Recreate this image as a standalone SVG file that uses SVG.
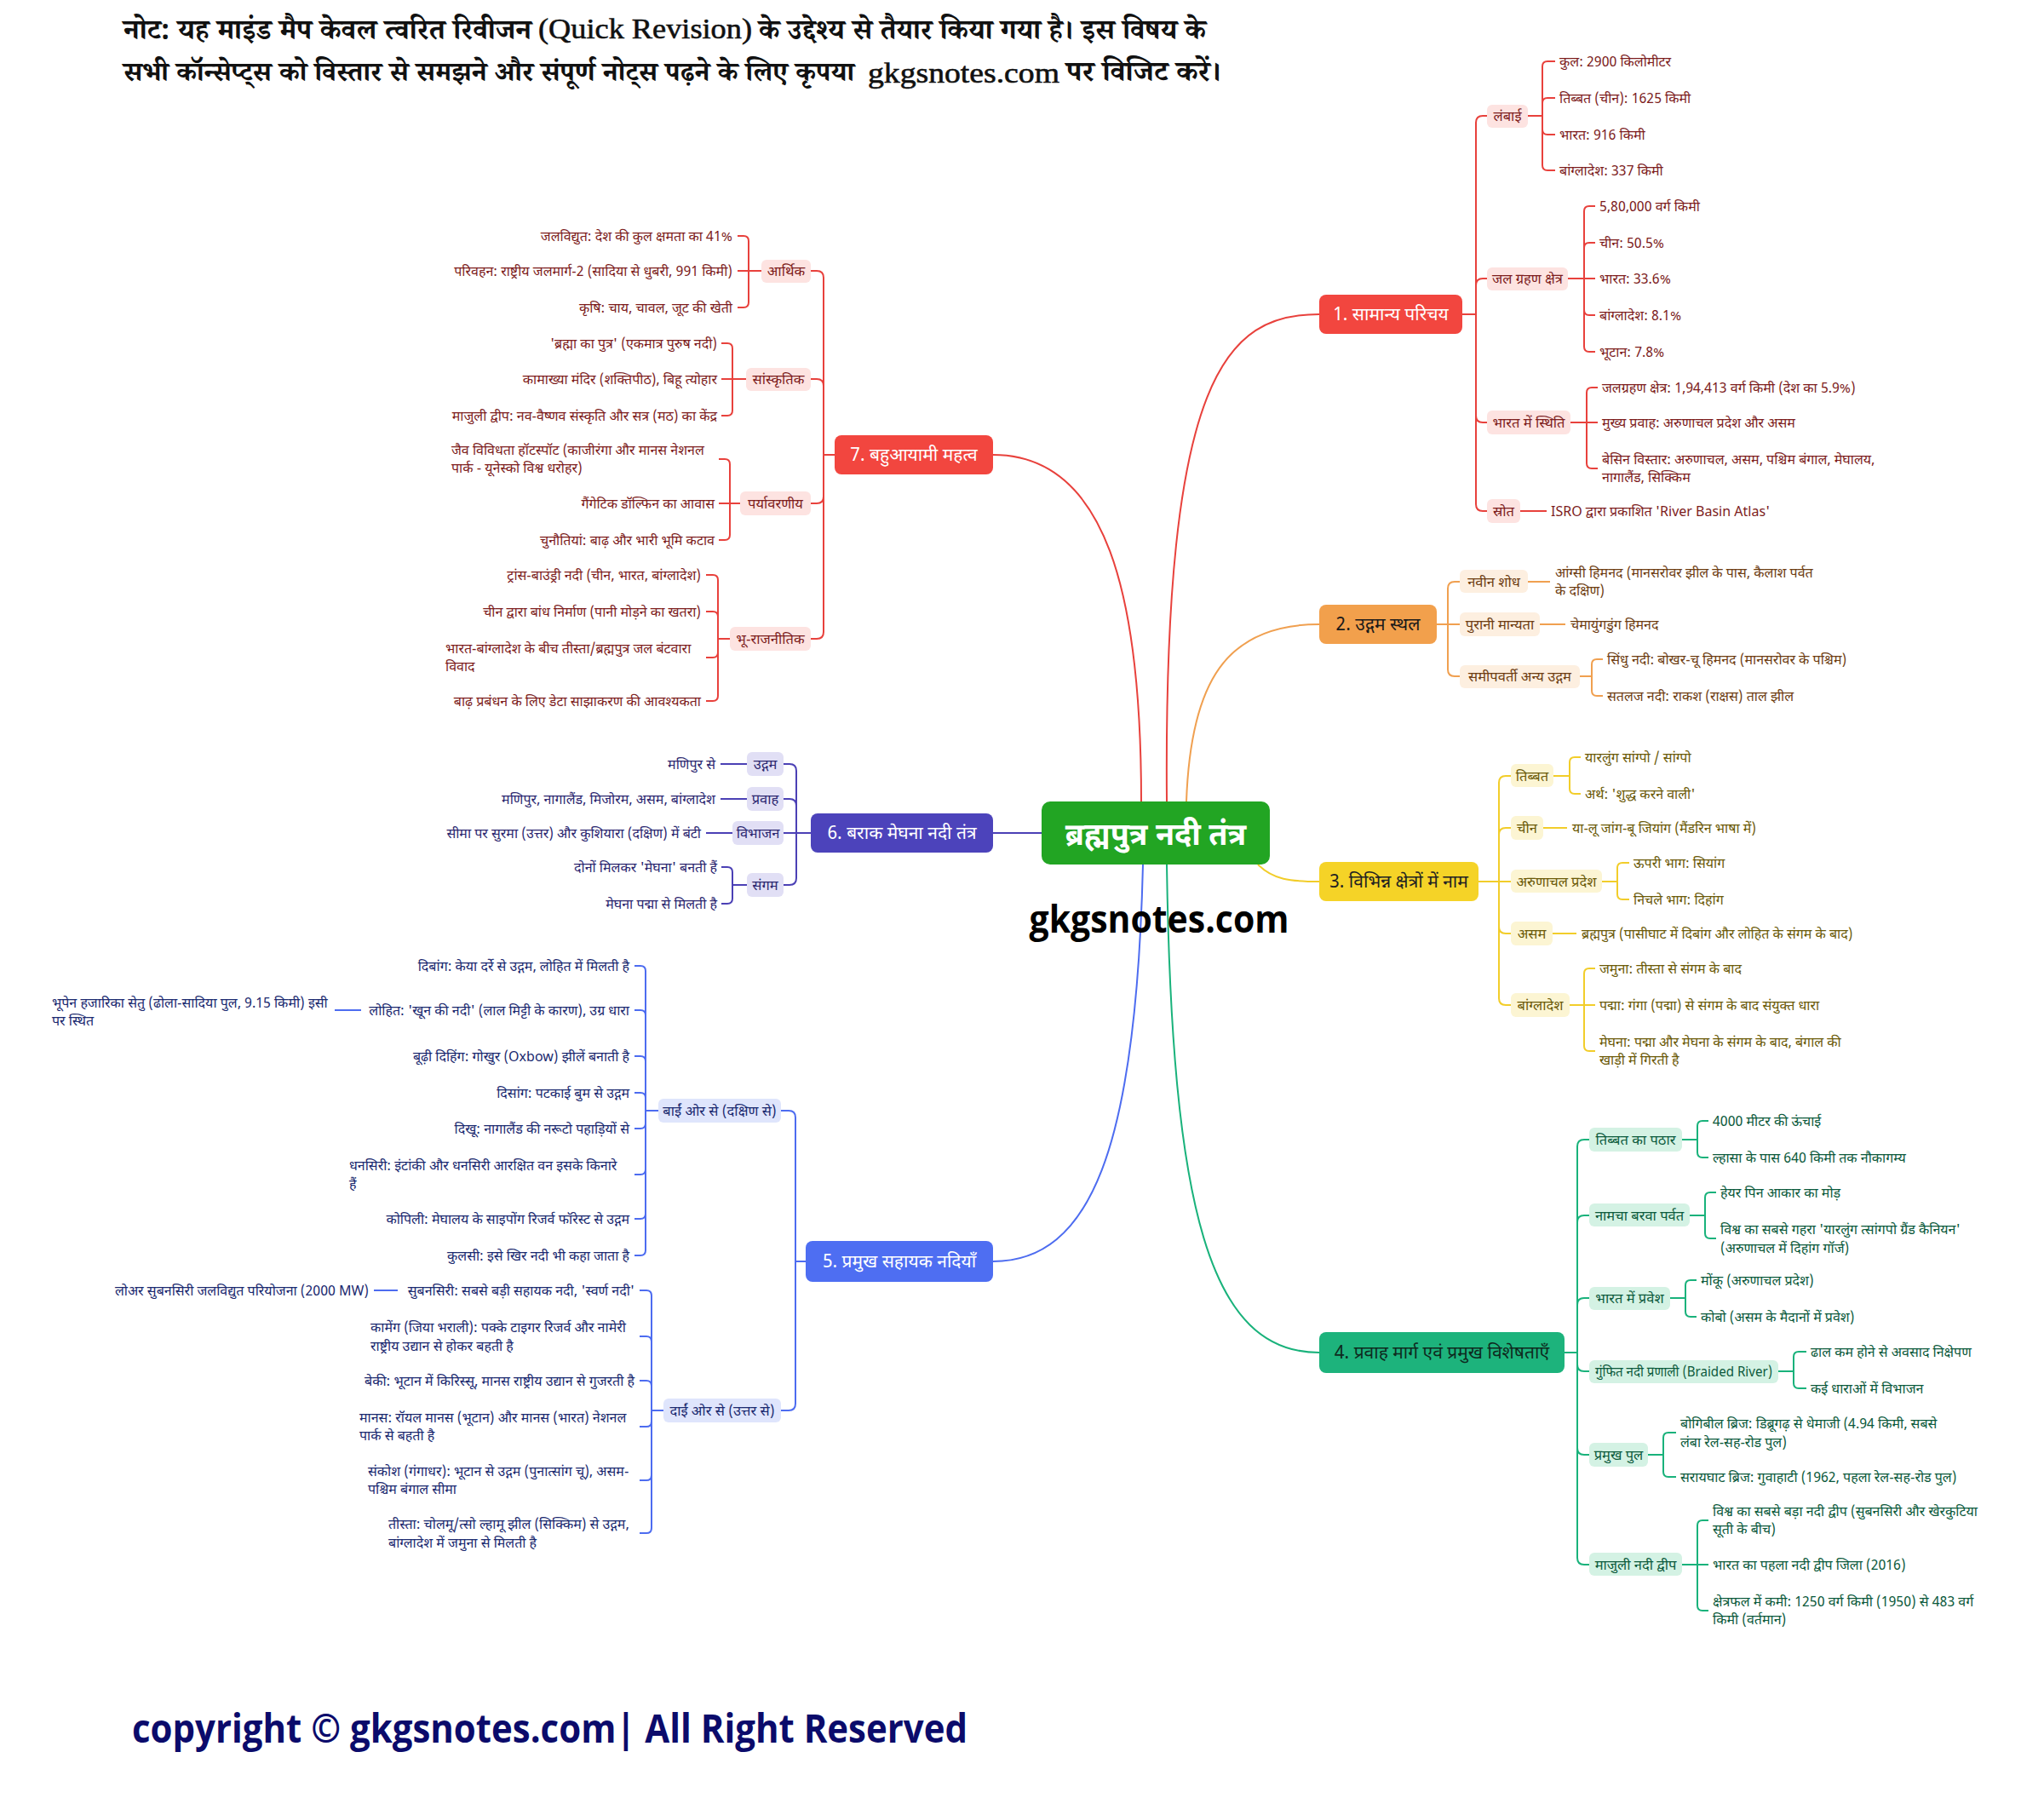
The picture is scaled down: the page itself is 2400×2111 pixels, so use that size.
<svg xmlns="http://www.w3.org/2000/svg" width="2400" height="2111" viewBox="0 0 2400 2111">
<style>
text{font-family:'Noto Sans Devanagari','Hind','Noto Sans','DejaVu Sans',sans-serif}
.lf{font-size:16px}
.sb{font-size:16.5px}
.mn{font-size:21px}
.e{text-anchor:end}
.m{text-anchor:middle}
.hd{font-family:'Noto Serif Devanagari','Noto Sans Devanagari','Liberation Serif',serif;font-weight:bold;font-size:34px;fill:#111}
.lat{font-family:'Liberation Serif',serif;font-size:34px;fill:#111;stroke:#111;stroke-width:0.6}
.c path{fill:none;stroke-width:2}
.cr{stroke:#e8413c}.co{stroke:#f0a050}.cy{stroke:#f2cd2a}.cg{stroke:#19b27b}.cb{stroke:#4d6cf0}.ci{stroke:#4b40b5}
.tr{fill:#7d1d1d}.to{fill:#6e3d12}.ty{fill:#6b5a08}.tg{fill:#0c5a3c}.tb{fill:#1b2a70}.ti{fill:#2c2770}
.sr{fill:#fde3e1}.so{fill:#fdefe0}.sy{fill:#fcf5d3}.sg{fill:#d4f2e4}.sbl{fill:#dfe5fc}.si{fill:#e1dff5}
</style>
<rect width="2400" height="2111" fill="#ffffff"/>

<g id="header">
<text class="hd" x="145" y="46" textLength="479" lengthAdjust="spacingAndGlyphs">नोट: यह माइंड मैप केवल त्वरित रिवीजन</text>
<text class="lat" x="632" y="45" textLength="251" lengthAdjust="spacingAndGlyphs">(Quick Revision)</text>
<text class="hd" x="891" y="46" textLength="525" lengthAdjust="spacingAndGlyphs">के उद्देश्य से तैयार किया गया है। इस विषय के</text>
<text class="hd" x="145" y="95" style="font-size:32.5px" textLength="858" lengthAdjust="spacingAndGlyphs">सभी कॉन्सेप्ट्स को विस्तार से समझने और संपूर्ण नोट्स पढ़ने के लिए कृपया</text>
<text class="lat" x="1019" y="97" style="font-size:33px" textLength="225" lengthAdjust="spacingAndGlyphs">gkgsnotes.com</text>
<text class="hd" x="1252" y="95" textLength="182" lengthAdjust="spacingAndGlyphs">पर विजिट करें।</text>
</g>

<g id="connectors" class="c">
<!-- center to main -->
<path class="cr" stroke-width="2.5" d="M1370 941 C1366 440 1440 369 1549 369"/>
<path class="cr" stroke-width="2.5" d="M1340 941 C1340 700 1300 534 1166 534"/>
<path class="co" stroke-width="2.5" d="M1393 941 C1398 800 1440 733 1549 733"/>
<path class="cy" stroke-width="2.5" d="M1477 1015 C1495 1033 1515 1035 1549 1035"/>
<path class="cg" stroke-width="2.5" d="M1370 1015 C1376 1420 1420 1588 1549 1588"/>
<path class="cb" stroke-width="2.5" d="M1342 1015 C1334 1350 1280 1481 1166 1481"/>
<path class="ci" stroke-width="2.5" d="M1223 978 H1166"/>

<!-- branch 1 -->
<path class="cr" d="M1717 369 H1733 V144 Q1733 136 1741 136 H1746"/>
<path class="cr" d="M1717 369 H1733 V335 Q1733 327 1741 327 H1746"/>
<path class="cr" d="M1717 369 H1733 V488 Q1733 496 1741 496 H1746"/>
<path class="cr" d="M1717 369 H1733 V592 Q1733 600 1741 600 H1746"/>
<path class="cr" d="M1794 136 H1811 V78 Q1811 72 1817 72 H1826"/>
<path class="cr" d="M1794 136 H1811 V121 Q1811 115 1817 115 H1826"/>
<path class="cr" d="M1794 136 H1811 V152 Q1811 158 1817 158 H1826"/>
<path class="cr" d="M1794 136 H1811 V194 Q1811 200 1817 200 H1826"/>
<path class="cr" d="M1841 327 H1860 V248 Q1860 242 1866 242 H1873"/>
<path class="cr" d="M1841 327 H1860 V291 Q1860 285 1866 285 H1873"/>
<path class="cr" d="M1841 327 H1873"/>
<path class="cr" d="M1841 327 H1860 V364 Q1860 370 1866 370 H1873"/>
<path class="cr" d="M1841 327 H1860 V407 Q1860 413 1866 413 H1873"/>
<path class="cr" d="M1844 496 H1863 V461 Q1863 455 1869 455 H1876"/>
<path class="cr" d="M1844 496 H1876"/>
<path class="cr" d="M1844 496 H1863 V544 Q1863 550 1869 550 H1876"/>
<path class="cr" d="M1785 600 H1816"/>

<!-- branch 2 -->
<path class="co" d="M1687 733 H1700 V691 Q1700 683 1708 683 H1714"/>
<path class="co" d="M1687 733 H1714"/>
<path class="co" d="M1687 733 H1700 V786 Q1700 794 1708 794 H1714"/>
<path class="co" d="M1794 683 H1820"/>
<path class="co" d="M1808 733 H1838"/>
<path class="co" d="M1855 794 H1869 V780 Q1869 774 1875 774 H1882"/>
<path class="co" d="M1855 794 H1869 V811 Q1869 817 1875 817 H1882"/>

<!-- branch 3 -->
<path class="cy" d="M1736 1035 H1760 V919 Q1760 911 1768 911 H1774"/>
<path class="cy" d="M1736 1035 H1760 V980 Q1760 972 1768 972 H1774"/>
<path class="cy" d="M1736 1035 H1774"/>
<path class="cy" d="M1736 1035 H1760 V1088 Q1760 1096 1768 1096 H1774"/>
<path class="cy" d="M1736 1035 H1760 V1172 Q1760 1180 1768 1180 H1774"/>
<path class="cy" d="M1824 911 H1843 V895 Q1843 889 1849 889 H1856"/>
<path class="cy" d="M1824 911 H1843 V926 Q1843 932 1849 932 H1856"/>
<path class="cy" d="M1812 972 H1840"/>
<path class="cy" d="M1881 1035 H1899 V1019 Q1899 1013 1905 1013 H1913"/>
<path class="cy" d="M1881 1035 H1899 V1050 Q1899 1056 1905 1056 H1913"/>
<path class="cy" d="M1823 1096 H1851"/>
<path class="cy" d="M1843 1180 H1860 V1143 Q1860 1137 1866 1137 H1873"/>
<path class="cy" d="M1843 1180 H1873"/>
<path class="cy" d="M1843 1180 H1860 V1228 Q1860 1234 1866 1234 H1873"/>

<!-- branch 4 -->
<path class="cg" d="M1837 1588 H1852 V1346 Q1852 1338 1860 1338 H1866"/>
<path class="cg" d="M1837 1588 H1852 V1435 Q1852 1427 1860 1427 H1866"/>
<path class="cg" d="M1837 1588 H1852 V1532 Q1852 1524 1860 1524 H1866"/>
<path class="cg" d="M1837 1588 H1852 V1602 Q1852 1610 1860 1610 H1866"/>
<path class="cg" d="M1837 1588 H1852 V1700 Q1852 1708 1860 1708 H1866"/>
<path class="cg" d="M1837 1588 H1852 V1829 Q1852 1837 1860 1837 H1866"/>
<path class="cg" d="M1975 1338 H1993 V1322 Q1993 1316 1999 1316 H2006"/>
<path class="cg" d="M1975 1338 H1993 V1353 Q1993 1359 1999 1359 H2006"/>
<path class="cg" d="M1984 1427 H2002 V1406 Q2002 1400 2008 1400 H2015"/>
<path class="cg" d="M1984 1427 H2002 V1448 Q2002 1454 2008 1454 H2015"/>
<path class="cg" d="M1961 1524 H1979 V1509 Q1979 1503 1985 1503 H1992"/>
<path class="cg" d="M1961 1524 H1979 V1540 Q1979 1546 1985 1546 H1992"/>
<path class="cg" d="M2088 1610 H2106 V1593 Q2106 1587 2112 1587 H2121"/>
<path class="cg" d="M2088 1610 H2106 V1624 Q2106 1630 2112 1630 H2121"/>
<path class="cg" d="M1935 1708 H1953 V1688 Q1953 1682 1959 1682 H1968"/>
<path class="cg" d="M1935 1708 H1953 V1728 Q1953 1734 1959 1734 H1968"/>
<path class="cg" d="M1975 1837 H1993 V1791 Q1993 1785 1999 1785 H2006"/>
<path class="cg" d="M1975 1837 H2006"/>
<path class="cg" d="M1975 1837 H1993 V1885 Q1993 1891 1999 1891 H2006"/>

<!-- branch 7 -->
<path class="cr" d="M980 534 H967 V326 Q967 318 959 318 H952"/>
<path class="cr" d="M980 534 H967 V453 Q967 445 959 445 H952"/>
<path class="cr" d="M980 534 H967 V583 Q967 591 959 591 H952"/>
<path class="cr" d="M980 534 H967 V742 Q967 750 959 750 H952"/>
<path class="cr" d="M894 318 H879 V283 Q879 277 873 277 H866"/>
<path class="cr" d="M894 318 H866"/>
<path class="cr" d="M894 318 H879 V355 Q879 361 873 361 H866"/>
<path class="cr" d="M876 445 H860 V409 Q860 403 854 403 H847"/>
<path class="cr" d="M876 445 H847"/>
<path class="cr" d="M876 445 H860 V482 Q860 488 854 488 H847"/>
<path class="cr" d="M869 591 H857 V545 Q857 539 851 539 H844"/>
<path class="cr" d="M869 591 H844"/>
<path class="cr" d="M869 591 H857 V628 Q857 634 851 634 H844"/>
<path class="cr" d="M857 750 H843 V681 Q843 675 837 675 H829"/>
<path class="cr" d="M857 750 H843 V724 Q843 718 837 718 H829"/>
<path class="cr" d="M857 750 H843 V766 Q843 772 837 772 H829"/>
<path class="cr" d="M857 750 H843 V817 Q843 823 837 823 H829"/>

<!-- branch 6 -->
<path class="ci" d="M952 978 H935 V905 Q935 897 927 897 H920"/>
<path class="ci" d="M952 978 H935 V946 Q935 938 927 938 H920"/>
<path class="ci" d="M952 978 H920"/>
<path class="ci" d="M952 978 H935 V1031 Q935 1039 927 1039 H920"/>
<path class="ci" d="M877 897 H846"/>
<path class="ci" d="M877 938 H846"/>
<path class="ci" d="M860 978 H829"/>
<path class="ci" d="M877 1039 H860 V1024 Q860 1018 854 1018 H847"/>
<path class="ci" d="M877 1039 H860 V1055 Q860 1061 854 1061 H847"/>

<!-- branch 5 -->
<path class="cb" d="M946 1481 H934 V1312 Q934 1304 926 1304 H917"/>
<path class="cb" d="M946 1481 H934 V1648 Q934 1656 926 1656 H917"/>
<path class="cb" d="M773 1304 H758 V1140 Q758 1134 752 1134 H745"/>
<path class="cb" d="M773 1304 H758 V1192 Q758 1186 752 1186 H745"/>
<path class="cb" d="M773 1304 H758 V1246 Q758 1240 752 1240 H745"/>
<path class="cb" d="M773 1304 H758 V1289 Q758 1283 752 1283 H745"/>
<path class="cb" d="M773 1304 H758 V1319 Q758 1325 752 1325 H745"/>
<path class="cb" d="M773 1304 H758 V1373 Q758 1379 752 1379 H745"/>
<path class="cb" d="M773 1304 H758 V1425 Q758 1431 752 1431 H745"/>
<path class="cb" d="M773 1304 H758 V1468 Q758 1474 752 1474 H745"/>
<path class="cb" d="M424 1186 H393"/>
<path class="cb" d="M779 1656 H765 V1521 Q765 1515 759 1515 H751"/>
<path class="cb" d="M779 1656 H765 V1575 Q765 1569 759 1569 H751"/>
<path class="cb" d="M779 1656 H765 V1627 Q765 1621 759 1621 H751"/>
<path class="cb" d="M779 1656 H765 V1669 Q765 1675 759 1675 H751"/>
<path class="cb" d="M779 1656 H765 V1732 Q765 1738 759 1738 H751"/>
<path class="cb" d="M779 1656 H765 V1794 Q765 1800 759 1800 H751"/>
<path class="cb" d="M467 1515 H439"/>
</g>

<g id="center">
<rect x="1223" y="941" width="268" height="74" rx="10" fill="#22a523"/>
<text x="1357" y="992" class="m" font-size="36" font-weight="bold" fill="#fff">ब्रह्मपुत्र नदी तंत्र</text>
</g>
<g id="watermark">
<text x="1361" y="1095" class="m" font-size="44" font-weight="bold" fill="#000" textLength="305" lengthAdjust="spacingAndGlyphs" style="font-family:'Open Sans','Noto Sans',sans-serif">gkgsnotes.com</text>
</g>

<!-- Branch 1 -->
<g id="n1">
<rect x="1549" y="346" width="168" height="46" rx="8" fill="#f2463f"/>
<text x="1633" y="376" class="m mn" fill="#fff">1. सामान्य परिचय</text>
</g>
<g id="n1-subs">
<rect class="sr" x="1746" y="123" width="48" height="27" rx="6"/><text class="sb m tr" x="1770" y="142">लंबाई</text>
<rect class="sr" x="1746" y="314" width="95" height="27" rx="6"/><text class="sb m tr" x="1793.5" y="333">जल ग्रहण क्षेत्र</text>
<rect class="sr" x="1746" y="482" width="98" height="28" rx="6"/><text class="sb m tr" x="1795" y="502">भारत में स्थिति</text>
<rect class="sr" x="1746" y="586" width="39" height="28" rx="6"/><text class="sb m tr" x="1765.5" y="606">स्रोत</text>
</g>
<g id="n1-leaves" class="lf tr">
<text x="1831" y="78">कुल: 2900 किलोमीटर</text>
<text x="1831" y="121">तिब्बत (चीन): 1625 किमी</text>
<text x="1831" y="164">भारत: 916 किमी</text>
<text x="1831" y="206">बांग्लादेश: 337 किमी</text>
<text x="1878" y="248">5,80,000 वर्ग किमी</text>
<text x="1878" y="291">चीन: 50.5%</text>
<text x="1878" y="333">भारत: 33.6%</text>
<text x="1878" y="376">बांग्लादेश: 8.1%</text>
<text x="1878" y="419">भूटान: 7.8%</text>
<text x="1881" y="461">जलग्रहण क्षेत्र: 1,94,413 वर्ग किमी (देश का 5.9%)</text>
<text x="1881" y="502">मुख्य प्रवाह: अरुणाचल प्रदेश और असम</text>
<text x="1881" y="545">बेसिन विस्तार: अरुणाचल, असम, पश्चिम बंगाल, मेघालय,<tspan x="1881" y="566">नागालैंड, सिक्किम</tspan></text>
<text x="1821" y="606">ISRO द्वारा प्रकाशित 'River Basin Atlas'</text>
</g>

<!-- Branch 2 -->
<g id="n2">
<rect x="1549" y="710" width="138" height="46" rx="8" fill="#f2a04c"/>
<text x="1618" y="740" class="m mn" fill="#1a1a1a">2. उद्गम स्थल</text>
</g>
<g id="n2-subs">
<rect class="so" x="1714" y="669" width="80" height="27" rx="6"/><text class="sb m to" x="1754" y="689">नवीन शोध</text>
<rect class="so" x="1714" y="719" width="94" height="28" rx="6"/><text class="sb m to" x="1761" y="739">पुरानी मान्यता</text>
<rect class="so" x="1714" y="781" width="141" height="27" rx="6"/><text class="sb m to" x="1784.5" y="800">समीपवर्ती अन्य उद्गम</text>
</g>
<g id="n2-leaves" class="lf to">
<text x="1826" y="678">आंग्सी हिमनद (मानसरोवर झील के पास, कैलाश पर्वत<tspan x="1826" y="699">के दक्षिण)</tspan></text>
<text x="1844" y="739">चेमायुंगडुंग हिमनद</text>
<text x="1887" y="780">सिंधु नदी: बोखर-चू हिमनद (मानसरोवर के पश्चिम)</text>
<text x="1887" y="823">सतलज नदी: राकश (राक्षस) ताल झील</text>
</g>

<!-- Branch 3 -->
<g id="n3">
<rect x="1549" y="1012" width="187" height="46" rx="8" fill="#f5d327"/>
<text x="1642.5" y="1042" class="m mn" fill="#222">3. विभिन्न क्षेत्रों में नाम</text>
</g>
<g id="n3-subs">
<rect class="sy" x="1774" y="897" width="50" height="27" rx="6"/><text class="sb m ty" x="1799" y="917">तिब्बत</text>
<rect class="sy" x="1774" y="958" width="38" height="28" rx="6"/><text class="sb m ty" x="1793" y="978">चीन</text>
<rect class="sy" x="1774" y="1021" width="107" height="27" rx="6"/><text class="sb m ty" x="1827.5" y="1041">अरुणाचल प्रदेश</text>
<rect class="sy" x="1774" y="1082" width="49" height="28" rx="6"/><text class="sb m ty" x="1798.5" y="1102">असम</text>
<rect class="sy" x="1774" y="1166" width="69" height="28" rx="6"/><text class="sb m ty" x="1808.5" y="1186">बांग्लादेश</text>
</g>
<g id="n3-leaves" class="lf ty">
<text x="1861" y="895">यारलुंग सांग्पो / सांग्पो</text>
<text x="1861" y="938">अर्थ: 'शुद्ध करने वाली'</text>
<text x="1846" y="978">या-लू जांग-बू जियांग (मैंडरिन भाषा में)</text>
<text x="1918" y="1019">ऊपरी भाग: सियांग</text>
<text x="1918" y="1062">निचले भाग: दिहांग</text>
<text x="1857" y="1102">ब्रह्मपुत्र (पासीघाट में दिबांग और लोहित के संगम के बाद)</text>
<text x="1878" y="1143">जमुना: तीस्ता से संगम के बाद</text>
<text x="1878" y="1186">पद्मा: गंगा (पद्मा) से संगम के बाद संयुक्त धारा</text>
<text x="1878" y="1229">मेघना: पद्मा और मेघना के संगम के बाद, बंगाल की<tspan x="1878" y="1250">खाड़ी में गिरती है</tspan></text>
</g>

<!-- Branch 4 -->
<g id="n4">
<rect x="1549" y="1564" width="288" height="48" rx="8" fill="#1db37c"/>
<text x="1693" y="1595" class="m mn" fill="#0e2a1e">4. प्रवाह मार्ग एवं प्रमुख विशेषताएँ</text>
</g>
<g id="n4-subs">
<rect class="sg" x="1866" y="1324" width="109" height="28" rx="6"/><text class="sb m tg" x="1920.5" y="1344">तिब्बत का पठार</text>
<rect class="sg" x="1866" y="1413" width="118" height="27" rx="6"/><text class="sb m tg" x="1925" y="1433">नामचा बरवा पर्वत</text>
<rect class="sg" x="1866" y="1511" width="95" height="27" rx="6"/><text class="sb m tg" x="1913.5" y="1530">भारत में प्रवेश</text>
<rect class="sg" x="1866" y="1597" width="222" height="27" rx="6"/><text class="sb m tg" x="1977" y="1616" textLength="208" lengthAdjust="spacingAndGlyphs">गुंफित नदी प्रणाली (Braided River)</text>
<rect class="sg" x="1866" y="1694" width="69" height="28" rx="6"/><text class="sb m tg" x="1900.5" y="1714">प्रमुख पुल</text>
<rect class="sg" x="1866" y="1823" width="109" height="27" rx="6"/><text class="sb m tg" x="1920.5" y="1843">माजुली नदी द्वीप</text>
</g>
<g id="n4-leaves" class="lf tg">
<text x="2011" y="1322">4000 मीटर की ऊंचाई</text>
<text x="2011" y="1365">ल्हासा के पास 640 किमी तक नौकागम्य</text>
<text x="2020" y="1406">हेयर पिन आकार का मोड़</text>
<text x="2020" y="1449">विश्व का सबसे गहरा 'यारलुंग त्सांगपो ग्रैंड कैनियन'<tspan x="2020" y="1471">(अरुणाचल में दिहांग गॉर्ज)</tspan></text>
<text x="1997" y="1509">मोंकू (अरुणाचल प्रदेश)</text>
<text x="1997" y="1552">कोबो (असम के मैदानों में प्रवेश)</text>
<text x="2126" y="1593">ढाल कम होने से अवसाद निक्षेपण</text>
<text x="2126" y="1636">कई धाराओं में विभाजन</text>
<text x="1973" y="1677">बोगिबील ब्रिज: डिब्रूगढ़ से धेमाजी (4.94 किमी, सबसे<tspan x="1973" y="1699">लंबा रेल-सह-रोड पुल)</tspan></text>
<text x="1973" y="1740">सरायघाट ब्रिज: गुवाहाटी (1962, पहला रेल-सह-रोड पुल)</text>
<text x="2011" y="1780">विश्व का सबसे बड़ा नदी द्वीप (सुबनसिरी और खेरकुटिया<tspan x="2011" y="1801">सूती के बीच)</tspan></text>
<text x="2011" y="1843">भारत का पहला नदी द्वीप जिला (2016)</text>
<text x="2011" y="1886">क्षेत्रफल में कमी: 1250 वर्ग किमी (1950) से 483 वर्ग<tspan x="2011" y="1907">किमी (वर्तमान)</tspan></text>
</g>

<!-- Branch 7 -->
<g id="n7">
<rect x="980" y="511" width="186" height="46" rx="8" fill="#f2463f"/>
<text x="1073" y="541" class="m mn" fill="#fff">7. बहुआयामी महत्व</text>
</g>
<g id="n7-subs">
<rect class="sr" x="894" y="305" width="58" height="27" rx="6"/><text class="sb m tr" x="923" y="324">आर्थिक</text>
<rect class="sr" x="876" y="432" width="76" height="27" rx="6"/><text class="sb m tr" x="914" y="451">सांस्कृतिक</text>
<rect class="sr" x="869" y="577" width="83" height="28" rx="6"/><text class="sb m tr" x="910.5" y="597">पर्यावरणीय</text>
<rect class="sr" x="857" y="736" width="95" height="28" rx="6"/><text class="sb m tr" x="904.5" y="756">भू-राजनीतिक</text>
</g>
<g id="n7-leaves" class="lf tr">
<text class="e" x="860" y="283">जलविद्युत: देश की कुल क्षमता का 41%</text>
<text class="e" x="860" y="324">परिवहन: राष्ट्रीय जलमार्ग-2 (सादिया से धुबरी, 991 किमी)</text>
<text class="e" x="860" y="367">कृषि: चाय, चावल, जूट की खेती</text>
<text class="e" x="842" y="409">'ब्रह्मा का पुत्र' (एकमात्र पुरुष नदी)</text>
<text class="e" x="842" y="451">कामाख्या मंदिर (शक्तिपीठ), बिहू त्योहार</text>
<text class="e" x="842" y="494">माजुली द्वीप: नव-वैष्णव संस्कृति और सत्र (मठ) का केंद्र</text>
<text x="530" y="534">जैव विविधता हॉटस्पॉट (काजीरंगा और मानस नेशनल<tspan x="530" y="555">पार्क - यूनेस्को विश्व धरोहर)</tspan></text>
<text class="e" x="839" y="597">गैंगेटिक डॉल्फिन का आवास</text>
<text class="e" x="839" y="640">चुनौतियां: बाढ़ और भारी भूमि कटाव</text>
<text class="e" x="823" y="681">ट्रांस-बाउंड्री नदी (चीन, भारत, बांग्लादेश)</text>
<text class="e" x="823" y="724">चीन द्वारा बांध निर्माण (पानी मोड़ने का खतरा)</text>
<text x="523" y="767">भारत-बांग्लादेश के बीच तीस्ता/ब्रह्मपुत्र जल बंटवारा<tspan x="523" y="788">विवाद</tspan></text>
<text class="e" x="823" y="829">बाढ़ प्रबंधन के लिए डेटा साझाकरण की आवश्यकता</text>
</g>

<!-- Branch 6 -->
<g id="n6">
<rect x="952" y="955" width="214" height="46" rx="8" fill="#4c43bb"/>
<text x="1059" y="985" class="m mn" fill="#fff">6. बराक मेघना नदी तंत्र</text>
</g>
<g id="n6-subs">
<rect class="si" x="877" y="883" width="43" height="28" rx="6"/><text class="sb m ti" x="898.5" y="903">उद्गम</text>
<rect class="si" x="877" y="924" width="43" height="28" rx="6"/><text class="sb m ti" x="898.5" y="944">प्रवाह</text>
<rect class="si" x="860" y="964" width="60" height="28" rx="6"/><text class="sb m ti" x="890" y="984">विभाजन</text>
<rect class="si" x="877" y="1025" width="43" height="28" rx="6"/><text class="sb m ti" x="898.5" y="1045">संगम</text>
</g>
<g id="n6-leaves" class="lf ti">
<text class="e" x="840" y="903">मणिपुर से</text>
<text class="e" x="840" y="944">मणिपुर, नागालैंड, मिजोरम, असम, बांग्लादेश</text>
<text class="e" x="823" y="984">सीमा पर सुरमा (उत्तर) और कुशियारा (दक्षिण) में बंटी</text>
<text class="e" x="842" y="1024">दोनों मिलकर 'मेघना' बनती हैं</text>
<text class="e" x="842" y="1067">मेघना पद्मा से मिलती है</text>
</g>

<!-- Branch 5 -->
<g id="n5">
<rect x="946" y="1457" width="220" height="48" rx="8" fill="#4e6ef2"/>
<text x="1056" y="1488" class="m mn" fill="#fff">5. प्रमुख सहायक नदियाँ</text>
</g>
<g id="n5-subs">
<rect class="sbl" x="773" y="1290" width="144" height="28" rx="6"/><text class="sb m tb" x="845" y="1310">बाईं ओर से (दक्षिण से)</text>
<rect class="sbl" x="779" y="1642" width="138" height="28" rx="6"/><text class="sb m tb" x="848" y="1662">दाईं ओर से (उत्तर से)</text>
</g>
<g id="n5-leaves" class="lf tb">
<text class="e" x="739" y="1140">दिबांग: केया दर्रे से उद्गम, लोहित में मिलती है</text>
<text class="e" x="739" y="1192">लोहित: 'खून की नदी' (लाल मिट्टी के कारण), उग्र धारा</text>
<text x="61" y="1183">भूपेन हजारिका सेतु (ढोला-सादिया पुल, 9.15 किमी) इसी<tspan x="61" y="1204">पर स्थित</tspan></text>
<text class="e" x="739" y="1246">बूढ़ी दिहिंग: गोखुर (Oxbow) झीलें बनाती है</text>
<text class="e" x="739" y="1289">दिसांग: पटकाई बुम से उद्गम</text>
<text class="e" x="739" y="1331">दिखू: नागालैंड की नरूटो पहाड़ियों से</text>
<text x="410" y="1374">धनसिरी: इंटांकी और धनसिरी आरक्षित वन इसके किनारे<tspan x="410" y="1396">हैं</tspan></text>
<text class="e" x="739" y="1437">कोपिली: मेघालय के साइपोंग रिजर्व फॉरेस्ट से उद्गम</text>
<text class="e" x="739" y="1480">कुलसी: इसे खिर नदी भी कहा जाता है</text>
<text class="e" x="745" y="1521">सुबनसिरी: सबसे बड़ी सहायक नदी, 'स्वर्ण नदी'</text>
<text class="e" x="433" y="1521">लोअर सुबनसिरी जलविद्युत परियोजना (2000 MW)</text>
<text x="435" y="1564">कामेंग (जिया भराली): पक्के टाइगर रिजर्व और नामेरी<tspan x="435" y="1586">राष्ट्रीय उद्यान से होकर बहती है</tspan></text>
<text class="e" x="745" y="1627">बेकी: भूटान में किरिस्सू, मानस राष्ट्रीय उद्यान से गुजरती है</text>
<text x="422" y="1670">मानस: रॉयल मानस (भूटान) और मानस (भारत) नेशनल<tspan x="422" y="1691">पार्क से बहती है</tspan></text>
<text x="432" y="1733">संकोश (गंगाधर): भूटान से उद्गम (पुनात्सांग चू), असम-<tspan x="432" y="1754">पश्चिम बंगाल सीमा</tspan></text>
<text x="456" y="1795">तीस्ता: चोलमू/त्सो ल्हामू झील (सिक्किम) से उद्गम,<tspan x="456" y="1817">बांग्लादेश में जमुना से मिलती है</tspan></text>
</g>

<g id="footer">
<text x="155" y="2046" font-size="46" font-weight="bold" fill="#0b0b6b" textLength="981" lengthAdjust="spacingAndGlyphs" style="font-family:'Open Sans','Noto Sans',sans-serif">copyright © gkgsnotes.com| All Right Reserved</text>
</g>
</svg>
